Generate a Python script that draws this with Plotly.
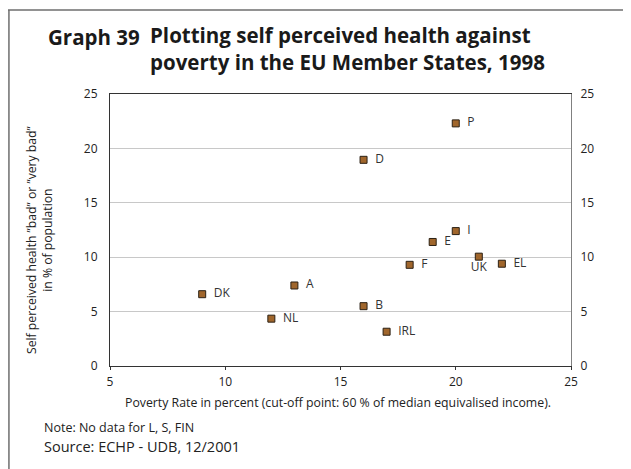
import plotly.graph_objects as go

countries = ["DK", "NL", "A", "B", "IRL", "D", "P", "I", "E", "F", "UK", "EL"]
poverty_rate = [9, 12, 13, 16, 17, 16, 20, 20, 19, 18, 21, 22]
bad_health = [6.6, 4.35, 7.4, 5.5, 3.15, 18.95, 22.3, 12.4, 11.4, 9.3, 10.05, 9.4]
label_pos = ["middle right"] * 10 + ["bottom center", "middle right"]
labels = ["  " + c if p == "middle right" else c for c, p in zip(countries, label_pos)]
ticks = [0, 5, 10, 15, 20, 25]
xticks = [5, 10, 15, 20, 25]

FONT = "Open Sans"

# page body has an 8px margin; work in reference-pixel coordinates
OFF = 8
W, H = 631 - OFF, 469 - OFF

def px(x):
    return (x - OFF) / W

def py(y):
    return 1 - (y - OFF) / H

PL, PR, PT, PB = 110, 571, 94, 366  # plot area in reference pixels

fig = go.Figure()
fig.add_trace(go.Scatter(
    x=poverty_rate, y=bad_health, mode="markers+text",
    text=labels, textposition=label_pos,
    textfont=dict(family=FONT, size=12, color="#333333"),
    marker=dict(symbol="square", size=7, color="#a0662c",
                line=dict(color="#2b2014", width=1)),
    hoverinfo="skip", showlegend=False,
))
fig.add_trace(go.Scatter(
    x=poverty_rate, y=bad_health, mode="markers", yaxis="y2",
    marker=dict(opacity=0), hoverinfo="skip", showlegend=False,
))

fig.update_layout(
    width=W, height=H,
    margin=dict(l=0, r=0, t=0, b=0, autoexpand=False),
    paper_bgcolor="white", plot_bgcolor="white",
    font=dict(family=FONT, size=12, color="#222222"),
    xaxis=dict(domain=[px(PL), px(PR)], range=[5, 25], tickvals=xticks,
               showgrid=False, zeroline=False,
               showline=True, linecolor="#333333", linewidth=1, mirror=True,
               ticks="outside", ticklen=3, tickcolor="#333333",
               ticklabelstandoff=2,
               tickfont=dict(family=FONT, size=12, color="#222222")),
    yaxis=dict(domain=[py(PB), py(PT)], range=[0, 25], tickvals=ticks,
               showgrid=True, gridcolor="#c8c8c8",
               gridwidth=1, zeroline=False, showline=True, linecolor="#333333",
               linewidth=1, ticks="", ticklabelstandoff=9,
               tickfont=dict(family=FONT, size=12, color="#222222")),
    yaxis2=dict(range=[0, 25], tickvals=ticks, overlaying="y", side="right",
                anchor="x",
                showgrid=False, zeroline=False, showline=True, linecolor="#808080",
                linewidth=1.2, ticks="", ticklabelstandoff=6,
                tickfont=dict(family=FONT, size=12, color="#222222")),
    shapes=[
        dict(type="line", xref="paper", yref="paper",
             x0=0, x1=1, y0=py(10), y1=py(10),
             line=dict(color="#6e6e6e", width=1.5)),
        dict(type="line", xref="paper", yref="paper",
             x0=0.0015, x1=0.0015, y0=py(10), y1=0,
             line=dict(color="#6e6e6e", width=1.5)),
    ],
    annotations=[
        dict(text="<b>Graph 39</b>", xref="paper", yref="paper",
             x=px(46), y=py(37), xanchor="left", yanchor="middle", showarrow=False,
             font=dict(family=FONT, size=20.5, color="#1a1a1a")),
        dict(text="<b>Plotting self perceived health against<br>poverty in the EU Member States, 1998</b>",
             xref="paper", yref="paper", x=px(148), y=py(48.5), xanchor="left",
             yanchor="middle", align="left", showarrow=False,
             font=dict(family=FONT, size=20.5, color="#1a1a1a")),
        dict(text="Self perceived health \u201dbad\u201d or \u201dvery bad\u201d<br>in % of population",
             xref="paper", yref="paper", x=px(39), y=py(240), textangle=-90,
             xanchor="center", yanchor="middle", showarrow=False,
             font=dict(family=FONT, size=12.2, color="#222222")),
        dict(text="Poverty Rate in percent (cut-off point: 60 % of median equivalised income).",
             xref="paper", yref="paper", x=px(338), y=py(402),
             xanchor="center", yanchor="middle", showarrow=False,
             font=dict(family=FONT, size=12.3, color="#222222")),
        dict(text="Note: No data for L, S, FIN", xref="paper", yref="paper",
             x=px(42), y=py(427), xanchor="left", yanchor="middle", showarrow=False,
             font=dict(family=FONT, size=12.5, color="#222222")),
        dict(text="Source: ECHP - UDB, 12/2001", xref="paper", yref="paper",
             x=px(42), y=py(446), xanchor="left", yanchor="middle", showarrow=False,
             font=dict(family=FONT, size=14.5, color="#222222")),
    ],
)

fig.write_html("out.html")
